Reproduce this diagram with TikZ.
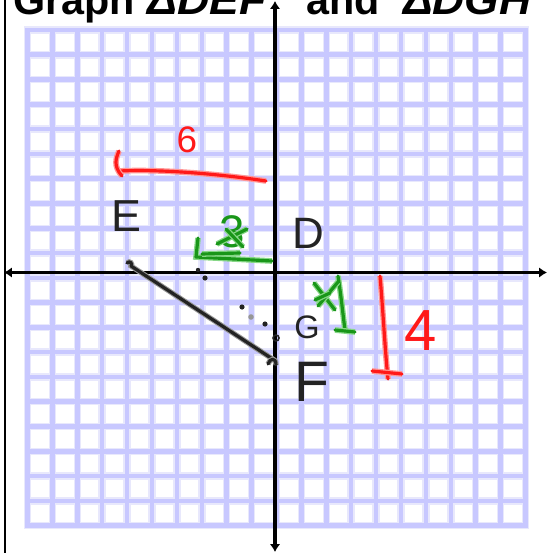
\documentclass[tikz,border=0pt]{standalone}
\usepackage{fontspec}
\setmainfont{Liberation Sans}
\usetikzlibrary{arrows.meta}

\definecolor{gridblue}{RGB}{200,200,255}
\definecolor{gridhalo}{RGB}{232,232,252}
\definecolor{penred}{RGB}{255,25,25}
\definecolor{penredhalo}{RGB}{255,150,150}
\definecolor{pengreen}{RGB}{25,150,25}
\definecolor{pengreenhalo}{RGB}{135,215,135}
\definecolor{penblack}{RGB}{35,35,35}
\definecolor{penblackhalo}{RGB}{150,150,150}

\tikzset{
	penstroke/.style={line width=3.6pt, line cap=round, line join=round},
	redpen/.style={penstroke, penred, preaction={draw, penredhalo, line width=6.5pt}},
	greenpen/.style={penstroke, pengreen, preaction={draw, pengreenhalo, line width=6.5pt}},
	blackpen/.style={penstroke, penblack, preaction={draw, penblackhalo, line width=6pt}},
	handtext/.style={inner sep=0pt, text=penblack},
	titletext/.style={anchor=base west, inner sep=0pt, font=\fontsize{47}{50}\selectfont\bfseries},
	axisline/.style={line width=4.2pt, {Latex[length=9pt,width=12pt]}-{Latex[length=9pt,width=12pt]}}
}

\begin{document}
\begin{tikzpicture}[x=0.04cm, y=-0.04cm]
	
	\useasboundingbox (0,0) rectangle (548,553);
	\clip (0,0) rectangle (548,553);
	
	% Title (cut off at the top)
	\node[titletext] (titleGraph) at (13,15) {Graph};
	\node[titletext] (titleDEF) at (147,15) {\itshape\scalebox{1.08}[1]{ΔDEF}};
	\node[titletext] (titleAnd) at (306,15) {and};
	\node[titletext] (titleDGH) at (403,15) {\itshape\scalebox{1.07}[1]{ΔDGH}};
	
	% Grid paper
	\foreach \i in {0,...,20} {
		\draw[gridhalo, line width=8.5pt, line cap=rect] ({27.5+24.9*\i},30) -- ({27.5+24.9*\i},525.5);
		\draw[gridhalo, line width=8.5pt, line cap=rect] (27.5,{30+24.78*\i}) -- (525.5,{30+24.78*\i});
	}
	\foreach \i in {0,...,20} {
		\draw[gridblue, line width=5.2pt, line cap=rect] ({27.5+24.9*\i},30) -- ({27.5+24.9*\i},525.5);
		\draw[gridblue, line width=5.2pt, line cap=rect] (27.5,{30+24.78*\i}) -- (525.5,{30+24.78*\i});
	}
	
	% Frame line and axes
	\draw[line width=3pt] (5,-5) -- (5,560);
	\draw[axisline] (4,272.5) -- (547,272.5);
	\draw[axisline] (275,1) -- (275,552);
	
	% Red translation arrow, 6 to the left
	\draw[redpen] (266,181) .. controls (220,174) and (160,169) .. (119,171);
	\draw[redpen] (119,151) .. controls (116,158) and (113,166) .. (122,176);
	\node[inner sep=0pt, text=penred, font=\fontsize{42}{42}\selectfont] (redSix) at (187,140) {6};
	
	% Red translation arrow, 4 down
	\draw[redpen] (380,276) .. controls (383,310) and (385,350) .. (388,379);
	\draw[redpen] (372,371) -- (402,374);
	\node[inner sep=0pt, text=penred, font=\fontsize{66}{66}\selectfont] (redFour) at (421,331) {4};
	
	% Green arrow to the left, crossed out 3
	\draw[greenpen] (198,238) -- (196,257) -- (272,261);
	\draw[greenpen] (202,254) -- (240,253);
	\node[inner sep=0pt, text=pengreen, font=\fontsize{52}{52}\selectfont] (greenThree) at (232,232) {3};
	\draw[greenpen] (217,244) -- (247,229);
	\draw[greenpen] (226,229) -- (243,247);
	
	% Green arrow down, crossed out
	\draw[greenpen] (338,276) .. controls (341,295) and (343,315) .. (345,330);
	\draw[greenpen] (335,330) -- (355,332);
	\draw[greenpen] (314,283) -- (335,310);
	\draw[greenpen] (318,306) -- (338,282);
	\draw[greenpen] (315,300) -- (330,293);
	
	% Segment E F and the dotted points
	\draw[blackpen] (127,263) .. controls (130,260) and (133,264) .. (131,266) -- (274,360);
	\draw[blackpen] (268,364) .. controls (270,358) and (276,357) .. (276,365);
	\fill[penblack] (198,270) circle (2.2);
	\fill[penblack] (205,278) circle (2.6);
	\fill[penblack] (242,307) circle (2.6);
	\fill[penblackhalo] (251,317) circle (2.8);
	\fill[penblack] (265,324) circle (2.6);
	\draw[penblack, line width=1.8pt] (276,338) circle (3);
	
	% Vertex labels
	\node[handtext, font=\fontsize{51}{51}\selectfont] (labelE) at (126,216) {E};
	\node[handtext, font=\fontsize{50}{50}\selectfont] (labelD) at (308,233) {D};
	\node[handtext, font=\fontsize{37}{37}\selectfont] (labelG) at (307,327) {G};
	\node[handtext, font=\fontsize{65}{65}\selectfont] (labelF) at (312,382) {F};
	
\end{tikzpicture}
\end{document}
